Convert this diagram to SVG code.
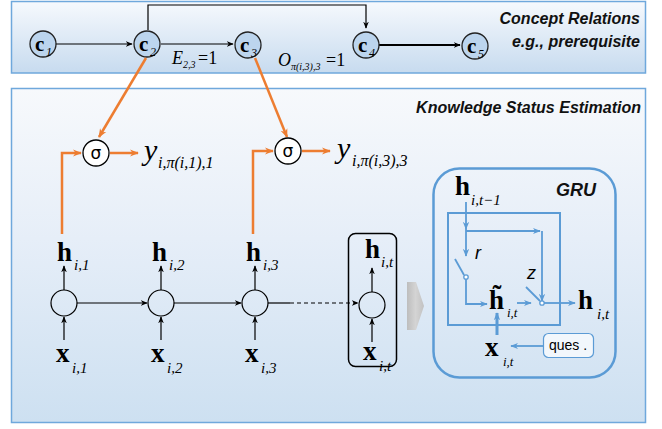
<svg xmlns="http://www.w3.org/2000/svg" width="662" height="429" viewBox="0 0 662 429">
  <defs>
    <linearGradient id="gTop" x1="0" y1="0" x2="0" y2="1">
      <stop offset="0" stop-color="#f6f9fd"/>
      <stop offset="1" stop-color="#c7dbef"/>
    </linearGradient>
    <linearGradient id="gBottom" x1="0" y1="0" x2="0" y2="1">
      <stop offset="0" stop-color="#f7f9fc"/>
      <stop offset="0.45" stop-color="#e6eef8"/>
      <stop offset="1" stop-color="#cde0f1"/>
    </linearGradient>
    <linearGradient id="gArrow" x1="0" y1="0" x2="1" y2="0">
      <stop offset="0" stop-color="#bdbdbd"/>
      <stop offset="0.5" stop-color="#d4d4d4"/>
      <stop offset="1" stop-color="#c2c2c2"/>
    </linearGradient>
    <marker id="ah" viewBox="0 0 10 10" refX="9" refY="5" markerWidth="7" markerHeight="7" orient="auto" markerUnits="userSpaceOnUse">
      <path d="M0,1 L10,5 L0,9 L3,5 Z" fill="#000"/>
    </marker>
    <marker id="ahO" viewBox="0 0 10 10" refX="9" refY="5" markerWidth="9" markerHeight="9" orient="auto" markerUnits="userSpaceOnUse">
      <path d="M0,1 L10,5 L0,9 L3,5 Z" fill="#ed7d31"/>
    </marker>
    <marker id="ahB" viewBox="0 0 10 10" refX="9" refY="5" markerWidth="8" markerHeight="8" orient="auto" markerUnits="userSpaceOnUse">
      <path d="M0,1 L10,5 L0,9 L3,5 Z" fill="#5b9bd5"/>
    </marker>
    <style>
      .panel { stroke: #6fa8dc; stroke-width: 1.5; }
      .title { font-family: "Liberation Sans", Arial, sans-serif; font-weight: bold; font-style: italic; font-size: 16px; fill: #111; }
      .cnode { fill: #bcd5ee; stroke: #222; stroke-width: 1.3; }
      .cl { font-family: "Liberation Serif", "Times New Roman", serif; font-weight: bold; font-size: 21px; fill: #000; }
      .csub { font-family: "Liberation Serif", "Times New Roman", serif; font-style: italic; font-size: 12px; fill: #000; }
      .eq { font-family: "Liberation Serif", "Times New Roman", serif; font-size: 18px; fill: #000; }
      .eqi { font-family: "Liberation Serif", "Times New Roman", serif; font-style: italic; font-size: 18px; fill: #000; }
      .eqs { font-family: "Liberation Serif", "Times New Roman", serif; font-style: italic; font-size: 10px; fill: #000; }
      .blk { fill: none; stroke: #000; stroke-width: 1.2; }
      .or { fill: none; stroke: #ed7d31; stroke-width: 2.5; }
      .bl { fill: none; stroke: #5b9bd5; stroke-width: 1.8; }
      .sig { fill: #fff; stroke: #000; stroke-width: 1.3; }
      .sigt { font-family: "DejaVu Sans", sans-serif; font-size: 17px; fill: #000; }
      .yv { font-family: "Liberation Serif", "Times New Roman", serif; font-style: italic; font-size: 30px; fill: #000; }
      .ys { font-family: "Liberation Serif", "Times New Roman", serif; font-style: italic; font-size: 16px; fill: #000; }
      .cell { fill: none; stroke: #000; stroke-width: 1.2; }
      .big { font-family: "Liberation Serif", "Times New Roman", serif; font-weight: bold; font-size: 27px; fill: #000; }
      .sub { font-family: "Liberation Serif", "Times New Roman", serif; font-style: italic; font-size: 15px; fill: #000; }
      .gsub { font-family: "Liberation Serif", "Times New Roman", serif; font-style: italic; font-size: 13px; fill: #000; }
      .gate { font-family: "Liberation Sans", Arial, sans-serif; font-style: italic; font-size: 18px; fill: #000; }
      .gru { font-family: "Liberation Sans", Arial, sans-serif; font-weight: bold; font-style: italic; font-size: 18px; fill: #111; }
      .ques { font-family: "Liberation Sans", Arial, sans-serif; font-size: 14px; fill: #000; }
    </style>
  </defs>

  <!-- panels -->
  <rect class="panel" x="11.5" y="1.5" width="634" height="71.5" fill="url(#gTop)"/>
  <rect class="panel" x="11.5" y="88.5" width="634" height="334" fill="url(#gBottom)"/>
  <text class="title" x="640" y="24" text-anchor="end">Concept Relations</text>
  <text class="title" x="640" y="47" text-anchor="end">e.g., prerequisite</text>
  <text class="title" x="641" y="113" text-anchor="end">Knowledge Status Estimation</text>

  <!-- concept graph connectors -->
  <g id="concept-edges">
    <path class="blk" d="M56,44 H132" marker-end="url(#ah)"/>
    <path class="blk" d="M161,44 H233" marker-end="url(#ah)"/>
    <path class="blk" d="M148,30 V5 H366 V28" marker-end="url(#ah)"/>
    <path d="M379,45 H460" fill="none" stroke="#000" stroke-width="2" marker-end="url(#ah)"/>
  </g>

  <g id="c1"><circle class="cnode" cx="43" cy="44" r="13"/><text class="cl" x="35" y="51">c</text><text class="csub" x="46" y="56">1</text></g>
  <g id="c2"><circle class="cnode" cx="147" cy="44" r="13"/><text class="cl" x="139" y="51">c</text><text class="csub" x="150" y="56">2</text></g>
  <g id="c3"><circle class="cnode" cx="248" cy="45" r="13"/><text class="cl" x="240" y="52">c</text><text class="csub" x="251" y="57">3</text></g>
  <g id="c4"><circle class="cnode" cx="366" cy="45" r="13"/><text class="cl" x="358" y="52">c</text><text class="csub" x="369" y="57">4</text></g>
  <g id="c5"><circle class="cnode" cx="475" cy="46" r="13"/><text class="cl" x="467" y="53">c</text><text class="csub" x="478" y="58">5</text></g>

  <g id="edge-labels">
    <text class="eqi" x="172" y="64">E</text><text class="eqs" x="183" y="68">2,3</text><text class="eq" x="198" y="64">=1</text>
    <text class="eqi" x="278" y="66">O</text><text class="eqs" x="291" y="70">π(i,3),3</text><text class="eq" x="326" y="66">=1</text>
  </g>

  <!-- orange prediction links -->
  <g id="predict-edges">
    <path class="or" d="M146,58 L99,137" marker-end="url(#ahO)"/>
    <path class="or" d="M255,58 L287,137" marker-end="url(#ahO)"/>
    <path class="or" d="M62,234 V153 H81" marker-end="url(#ahO)"/>
    <path class="or" d="M253,234 V151 H273" marker-end="url(#ahO)"/>
    <path class="or" d="M110,153 H138" marker-end="url(#ahO)"/>
    <path class="or" d="M302,151 H330" marker-end="url(#ahO)"/>
  </g>

  <g id="sigma1"><circle class="sig" cx="96" cy="153" r="13"/><text class="sigt" x="96" y="159" text-anchor="middle">σ</text></g>
  <g id="sigma2"><circle class="sig" cx="288" cy="151" r="13"/><text class="sigt" x="288" y="157" text-anchor="middle">σ</text></g>
  <g id="y1"><text class="yv" x="144" y="160">y</text><text class="ys" x="158" y="168">i,π(i,1),1</text></g>
  <g id="y2"><text class="yv" x="337" y="158">y</text><text class="ys" x="352" y="166">i,π(i,3),3</text></g>

  <!-- recurrent chain connectors -->
  <g id="rnn-edges">
    <path class="blk" d="M64,290 V266" marker-end="url(#ah)"/>
    <path class="blk" d="M161,290 V266" marker-end="url(#ah)"/>
    <path class="blk" d="M255,290 V266" marker-end="url(#ah)"/>
    <path class="blk" d="M372,292 V268" marker-end="url(#ah)"/>
    <path class="blk" d="M64,340 V317" marker-end="url(#ah)"/>
    <path class="blk" d="M161,340 V317" marker-end="url(#ah)"/>
    <path class="blk" d="M255,340 V317" marker-end="url(#ah)"/>
    <path class="blk" d="M372,342 V319" marker-end="url(#ah)"/>
    <path class="blk" d="M77,303 H147" marker-end="url(#ah)"/>
    <path class="blk" d="M174,303 H241" marker-end="url(#ah)"/>
    <path class="blk" d="M268,303 H290"/>
    <path class="blk" d="M290,303 H358" stroke-dasharray="4,3" marker-end="url(#ah)"/>
  </g>

  <g id="step1"><circle class="cell" cx="64" cy="303" r="13"/>
    <text class="big" x="57" y="261">h</text><text class="sub" x="74" y="270">i,1</text>
    <text class="big" x="56" y="362">x</text><text class="sub" x="72" y="373">i,1</text></g>
  <g id="step2"><circle class="cell" cx="161" cy="303" r="13"/>
    <text class="big" x="152" y="261">h</text><text class="sub" x="169" y="270">i,2</text>
    <text class="big" x="151" y="362">x</text><text class="sub" x="167" y="373">i,2</text></g>
  <g id="step3"><circle class="cell" cx="255" cy="303" r="13"/>
    <text class="big" x="246" y="261">h</text><text class="sub" x="263" y="270">i,3</text>
    <text class="big" x="245" y="362">x</text><text class="sub" x="261" y="373">i,3</text></g>
  <g id="stept">
    <rect x="348.5" y="233.5" width="48" height="133" rx="7" fill="none" stroke="#000" stroke-width="1.5"/>
    <circle class="cell" cx="372" cy="305" r="13"/>
    <text class="big" x="365" y="258">h</text><text class="sub" x="381" y="267">i,t</text>
    <text class="big" x="363" y="360">x</text><text class="sub" x="379" y="371">i,t</text></g>

  <!-- expand arrow -->
  <polygon points="407,282 416,282 424,306 416,330 407,330" fill="url(#gArrow)"/>

  <!-- GRU detail -->
  <g id="gru">
    <rect x="433.5" y="168.5" width="182" height="209" rx="26" fill="none" stroke="#5b9bd5" stroke-width="2.5"/>
    <rect x="448" y="213" width="112" height="112" fill="none" stroke="#5b9bd5" stroke-width="2"/>
    <text class="gru" x="556" y="196">GRU</text>
    <text class="big" x="455" y="195">h</text><text class="sub" x="471" y="205">i,t−1</text>
    <path class="bl" d="M466,202 V229" marker-end="url(#ahB)"/>
    <path class="bl" d="M466,229 V256" marker-end="url(#ahB)"/>
    <path class="bl" d="M466,231 H540" marker-end="url(#ahB)"/>
    <path class="bl" d="M542,231 V301" marker-end="url(#ahB)"/>
    <text class="gate" x="475" y="259">r</text>
    <text class="gate" x="527" y="279">z</text>
    <path class="bl" d="M455,259 L464,275"/>
    <circle cx="466" cy="277" r="2.2" fill="#fff" stroke="#5b9bd5" stroke-width="1.3"/>
    <path class="bl" d="M466,279 V304 H487" marker-end="url(#ahB)"/>
    <text class="big" x="489" y="309">h̃</text>
    <text class="gsub" x="507" y="317">i,t</text>
    <path class="bl" d="M517,303 H531" marker-end="url(#ahB)"/>
    <path class="bl" d="M526,287 L540,301"/>
    <circle cx="542" cy="303" r="2.2" fill="#fff" stroke="#5b9bd5" stroke-width="1.3"/>
    <path class="bl" d="M544,303 H575" marker-end="url(#ahB)"/>
    <text class="big" x="578" y="309">h</text><text class="sub" x="597" y="319">i,t</text>
    <path d="M497,335 V313" fill="none" stroke="#5b9bd5" stroke-width="3" marker-end="url(#ahB)"/>
    <text class="big" x="485" y="356">x</text><text class="gsub" x="503" y="366">i,t</text>
    <rect x="543.5" y="333.5" width="50" height="24" rx="5" fill="#f2f7fc" stroke="#5b9bd5" stroke-width="1.2"/>
    <text class="ques" x="568" y="350" text-anchor="middle">ques .</text>
    <path class="bl" d="M543,346 H511" marker-end="url(#ahB)"/>
  </g>
</svg>
